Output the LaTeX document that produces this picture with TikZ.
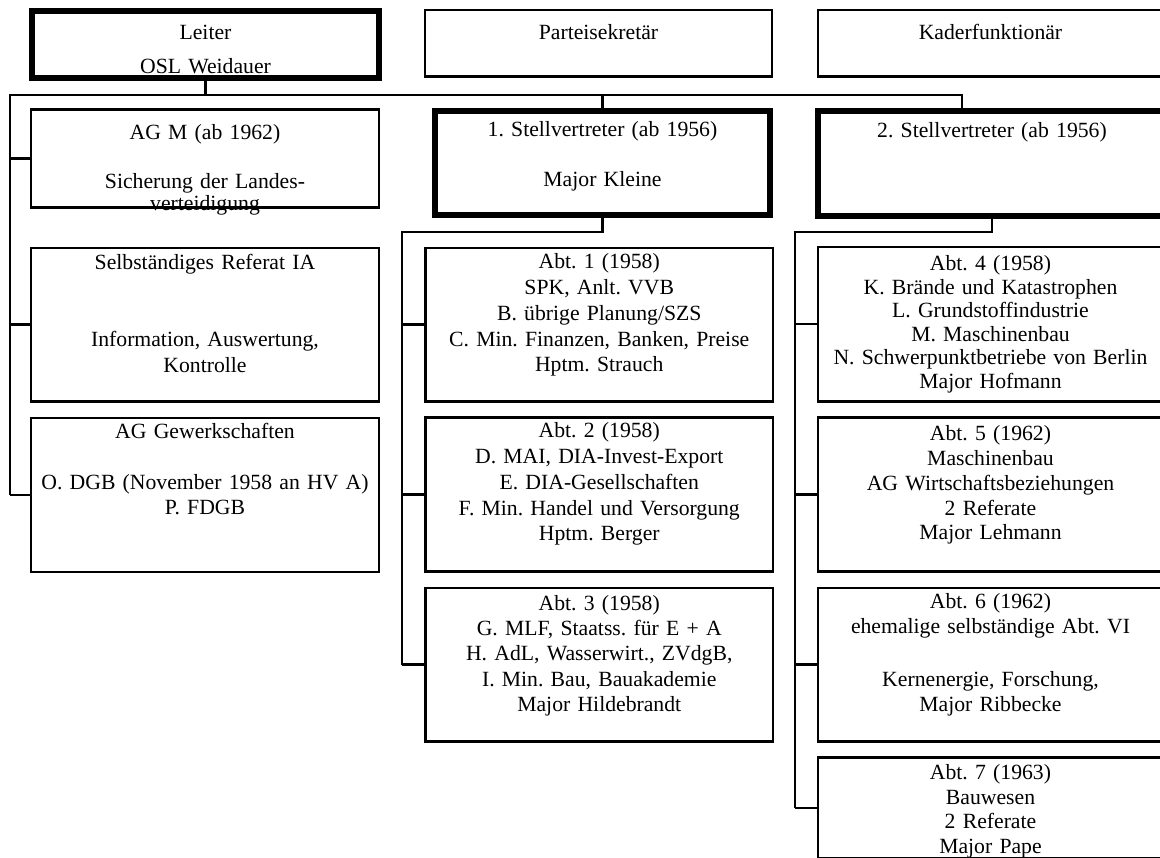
\documentclass[tikz,border=0pt]{standalone}
\usepackage{fontspec}
\setmainfont{Liberation Serif}
\frenchspacing
\newcommand\unitfont{\fontsize{21.7}{25.7}\selectfont}

\tikzset{
    unit/.style={draw, line width=2.6pt, inner sep=0pt, outer sep=0pt, anchor=north, align=center, font=\unitfont},
    chief/.style={unit, line width=6pt},
    link/.style={line width=2.6pt},
    leading/.style={font=\fontsize{21.7}{#1}\selectfont},
    leftcol/.style={text width=348pt},
    midcol/.style={text width=347.5pt},
    rightcol/.style={text width=345pt},
}

\begin{document}
\begin{tikzpicture}[x=1pt, y=-1pt]
        \useasboundingbox (0,0) rectangle (1160,858);

        \node[chief, leading=34.7, text width=346.4pt, text height=28.3pt, text depth=38.7pt] (leiter) at (205.5,11) {Leiter\\OSL Weidauer};
        \node[unit, text width=347pt, text height=29.3pt, text depth=37.2pt] (partei) at (598.5,10) {Parteisekretär};
        \node[unit, rightcol, text height=29.3pt, text depth=37.2pt] (kader) at (990.5,10) {Kaderfunktionär};

        \node[chief, text width=335pt, text height=25.7pt, text depth=78.3pt] (stv1) at (602.5,111) {1. Stellvertreter (ab 1956)\\[24.3pt]Major Kleine};
        \node[chief, text width=348pt, text height=27pt, text depth=78pt] (stv2) at (992,111) {2. Stellvertreter (ab 1956)};

        \node[unit, leftcol, leading=21.6, text height=30.3pt, text depth=67.7pt] (agm) at (205,109.7) {AG M (ab 1962)\\[27pt]Sicherung der Landes-\\verteidigung};
        \node[unit, leftcol, text height=21.3pt, text depth=132pt] (selb) at (205,248) {Selbständiges Referat IA\\[51.7pt]Information, Auswertung,\\Kontrolle};
        \node[unit, leftcol, text height=20.3pt, text depth=133.7pt] (agg) at (205,418) {AG Gewerkschaften\\[25.3pt]O. DGB (November 1958 an HV A)\\P. FDGB};

        \node[unit, midcol, text height=21pt, text depth=132.3pt] (abt1) at (599.25,248) {Abt. 1 (1958)\\SPK, Anlt. VVB\\B. übrige Planung/SZS\\C. Min. Finanzen, Banken, Preise\\Hptm. Strauch};
        \node[unit, midcol, text height=20.7pt, text depth=133.3pt] (abt2) at (599.25,417.3) {Abt. 2 (1958)\\D. MAI, DIA-Invest-Export\\E. DIA-Gesellschaften\\F. Min. Handel und Versorgung\\Hptm. Berger};
        \node[unit, midcol, leading=25.4, text height=22pt, text depth=131.3pt] (abt3) at (599.25,588) {Abt. 3 (1958)\\G. MLF, Staatss. für E + A\\H. AdL, Wasserwirt., ZVdgB,\\I. Min. Bau, Bauakademie\\Major Hildebrandt};

        \node[unit, rightcol, leading=23.5, text height=23.7pt, text depth=130.6pt] (abt4) at (990.5,247) {Abt. 4 (1958)\\K. Brände und Katastrophen\\L. Grundstoffindustrie\\M. Maschinenbau\\N. Schwerpunktbetriebe von Berlin\\Major Hofmann};
        \node[unit, rightcol, leading=24.8, text height=23.4pt, text depth=130.6pt] (abt5) at (990.5,417.3) {Abt. 5 (1962)\\Maschinenbau\\AG Wirtschaftsbeziehungen\\2 Referate\\Major Lehmann};
        \node[unit, rightcol, leading=25, text height=20pt, text depth=133.3pt] (abt6) at (990.5,588) {Abt. 6 (1962)\\ehemalige selbständige Abt. VI\\[28.7pt]Kernenergie, Forschung,\\Major Ribbecke};
        \node[unit, rightcol, leading=24.5, text height=22.5pt, text depth=78.8pt] (abt7) at (990.5,757.3) {Abt. 7 (1963)\\Bauwesen\\2 Referate\\Major Pape};

        \coordinate (rail) at (10,95);
        \coordinate (railend) at (962,95);
        \coordinate (midrail) at (402,232);
        \coordinate (rightrail) at (795,232);

        \draw[link] (leiter.south) -- (leiter.south |- rail);
        \draw[link] (rail |- agg.west) -- (rail) -- (railend) -- (railend |- stv2.north);
        \draw[link] (stv1.north |- rail) -- (stv1.north);
        \foreach \n in {agm,selb,agg}
            \draw[link] (rail |- \n.west) -- (\n.west);

        \draw[link] (stv1.south) -- (stv1.south |- midrail) -- (midrail) -- (midrail |- abt3.west);
        \foreach \n in {abt1,abt2,abt3}
            \draw[link] (midrail |- \n.west) -- (\n.west);

        \draw[link] (stv2.south) -- (stv2.south |- rightrail) -- (rightrail) -- (rightrail |- abt7.west);
        \foreach \n in {abt4,abt5,abt6,abt7}
            \draw[link] (rightrail |- \n.west) -- (\n.west);
\end{tikzpicture}
\end{document}
